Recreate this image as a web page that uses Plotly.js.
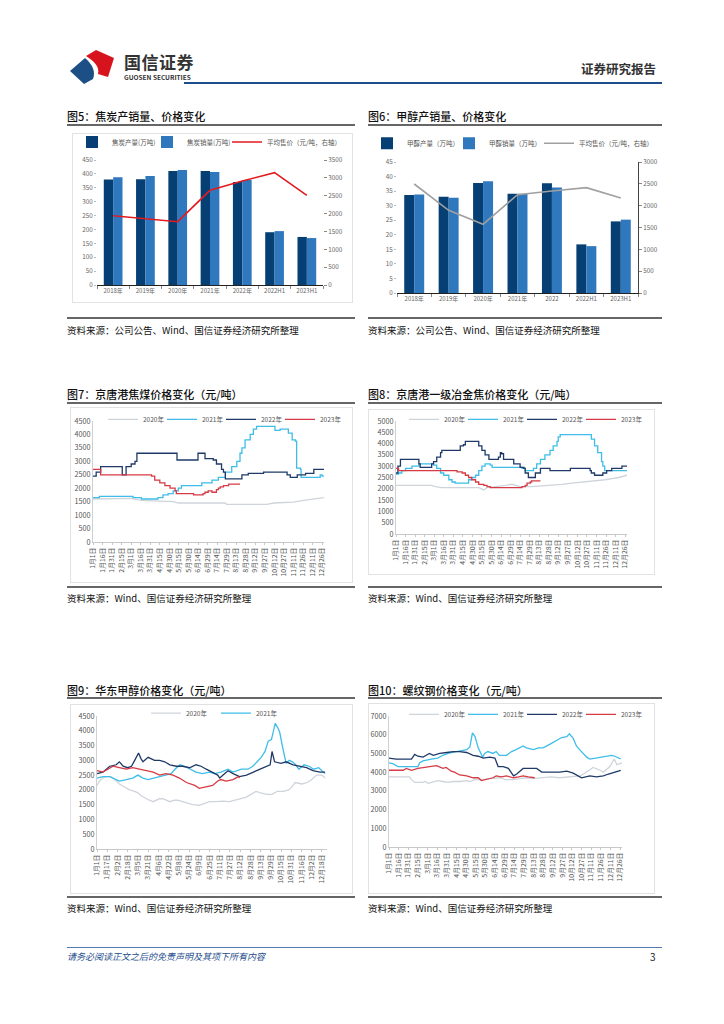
<!DOCTYPE html>
<html><head><meta charset="utf-8">
<script src="https://cdn.plot.ly/plotly-3.0.1.min.js"></script>
<style>
html,body{margin:0;padding:0;background:#fff;}
#page{position:relative;width:724px;height:1024px;overflow:hidden;font-family:"Noto Sans CJK SC","Noto Sans",sans-serif;color:#222;}
.abs{position:absolute;white-space:nowrap;}
.ftitle{position:absolute;font-size:11px;font-weight:500;color:#111;white-space:nowrap;line-height:14px;}
.rule{position:absolute;height:1.5px;background:#666;}
.src{position:absolute;font-size:9.5px;color:#111;white-space:nowrap;line-height:12px;}
.box{position:absolute;border:1px solid #e2e2e2;box-sizing:border-box;}
.plot{position:absolute;}
</style></head>
<body><div id="page">
<svg class="abs" style="left:0;top:0" width="130" height="90">
<path d="M86,56 L96,50 L114,58 L108,77 L98,74 C100,67 94,61 86,56 Z" fill="#d7141d"/>
<path d="M70,71 L85,58 C92,64 96,71 93,79 L84,84 Z" fill="#1d4f87"/>
</svg>
<div class="abs" style="left:124px;top:53px;font-size:17px;line-height:18px;font-weight:700;color:#333;letter-spacing:0.5px;">国信证券</div>
<div class="abs" style="left:124px;top:73px;font-size:6.5px;line-height:8px;font-weight:700;color:#333;">GUOSEN SECURITIES</div>
<div class="abs" style="left:184px;top:82px;width:478px;height:2px;background:#1f4e8c;"></div>
<div class="abs" style="left:581px;top:61px;font-size:12.5px;line-height:15px;font-weight:700;color:#333;">证券研究报告</div>

<div class="ftitle" style="left:67px;top:109px;">图5：焦炭产销量、价格变化</div>
<div class="rule" style="left:67px;top:124px;width:288px;"></div>
<div class="ftitle" style="left:368px;top:109px;">图6：甲醇产销量、价格变化</div>
<div class="rule" style="left:368px;top:124px;width:294px;"></div>
<div class="box" style="left:72px;top:133px;width:281px;height:170px;"></div>
<div class="plot" id="c5" style="left:72px;top:133px;width:281px;height:170px;"></div>
<div class="plot" id="c6" style="left:368px;top:132px;width:294px;height:176px;"></div>
<div class="rule" style="left:67px;top:317px;width:288px;"></div>
<div class="rule" style="left:368px;top:317px;width:294px;"></div>
<div class="src" style="left:67px;top:324px;">资料来源：公司公告、Wind、国信证券经济研究所整理</div>
<div class="src" style="left:368px;top:324px;">资料来源：公司公告、Wind、国信证券经济研究所整理</div>

<div class="ftitle" style="left:67px;top:387px;">图7：京唐港焦煤价格变化（元/吨）</div>
<div class="rule" style="left:67px;top:402px;width:288px;"></div>
<div class="ftitle" style="left:368px;top:387px;">图8：京唐港一级冶金焦价格变化（元/吨）</div>
<div class="rule" style="left:368px;top:402px;width:294px;"></div>
<div class="box" style="left:70px;top:407px;width:283px;height:176px;"></div>
<div class="box" style="left:368px;top:409px;width:287px;height:166px;"></div>
<div class="plot" id="c7" style="left:67px;top:405px;width:286px;height:178px;"></div>
<div class="plot" id="c8" style="left:368px;top:408px;width:287px;height:170px;"></div>
<div class="rule" style="left:67px;top:586px;width:288px;"></div>
<div class="rule" style="left:368px;top:586px;width:294px;"></div>
<div class="src" style="left:67px;top:592px;">资料来源：Wind、国信证券经济研究所整理</div>
<div class="src" style="left:368px;top:592px;">资料来源：Wind、国信证券经济研究所整理</div>

<div class="ftitle" style="left:67px;top:683px;">图9：华东甲醇价格变化（元/吨）</div>
<div class="rule" style="left:67px;top:697px;width:288px;"></div>
<div class="ftitle" style="left:368px;top:683px;">图10：螺纹钢价格变化（元/吨）</div>
<div class="rule" style="left:368px;top:697px;width:294px;"></div>
<div class="box" style="left:70px;top:704px;width:283px;height:190px;"></div>
<div class="box" style="left:368px;top:703px;width:287px;height:191px;"></div>
<div class="plot" id="c9" style="left:67px;top:702px;width:286px;height:190px;"></div>
<div class="plot" id="c10" style="left:365px;top:702px;width:290px;height:190px;"></div>
<div class="rule" style="left:67px;top:896px;width:288px;"></div>
<div class="rule" style="left:368px;top:896px;width:294px;"></div>
<div class="src" style="left:67px;top:902px;">资料来源：Wind、国信证券经济研究所整理</div>
<div class="src" style="left:368px;top:902px;">资料来源：Wind、国信证券经济研究所整理</div>

<div class="abs" style="left:67px;top:947px;width:595px;height:1px;background:#4f79b0;"></div>
<div class="abs" style="left:67px;top:951px;font-size:9px;line-height:12px;font-style:italic;color:#1f4e8c;">请务必阅读正文之后的免责声明及其项下所有内容</div>
<div class="abs" style="left:650px;top:951px;font-size:10px;line-height:12px;color:#222;">3</div>
</div>
<script>
// ---------- Chart 5 data (焦炭) ----------
var c5_categories = ["2018年","2019年","2020年","2021年","2022年","2022H1","2023H1"];
var c5_output = [380, 381, 410, 410, 371, 190, 173];
var c5_sales = [388, 392, 414, 407, 378, 194, 169];
var c5_price = [1941, 1848, 1773, 2651, 2912, 3145, 2511];
// ---------- Chart 6 data (甲醇) ----------
var c6_categories = ["2018年","2019年","2020年","2021年","2022","2022H1","2023H1"];
var c6_output = [33.7, 33.1, 37.8, 34.1, 37.7, 16.7, 24.6];
var c6_sales = [33.8, 32.7, 38.4, 34.1, 36.2, 16.1, 25.2];
var c6_price = [2496, 1893, 1573, 2252, 2336, 2412, 2176];

// ---------- tick labels ----------
var ticks15_days = [0,15,30,45,60,75,90,105,120,135,150,165,180,195,210,225,240,255,270,285,300,315,330,345,360];
var ticks15_text = ["1月1日","1月16日","1月31日","2月15日","3月1日","3月16日","3月31日","4月15日","4月30日","5月15日","5月30日","6月14日","6月29日","7月14日","7月29日","8月13日","8月28日","9月12日","9月27日","10月12日","10月27日","11月11日","11月26日","12月11日","12月26日"];
var ticks16_days = [0,16,32,48,64,80,96,112,128,144,160,176,192,208,224,240,256,272,288,304,320,336,352];
var ticks16_text = ["1月1日","1月17日","2月2日","2月18日","3月5日","3月21日","4月6日","4月22日","5月8日","5月24日","6月9日","6月25日","7月11日","7月27日","8月12日","8月28日","9月13日","9月29日","10月15日","10月31日","11月16日","12月2日","12月18日"];

// ---------- Chart 7 (京唐港焦煤) day-of-year / price ----------
var c7_2020_d = [0,52,60,76,105,126,134,208,210,273,284,315,331,347,363];
var c7_2020_v = [1600,1600,1620,1550,1520,1500,1450,1450,1400,1400,1450,1480,1550,1600,1650];
var c7_2021_d = [0,10,58,63,76,100,102,110,118,126,134,139,168,171,187,197,208,218,226,231,234,239,247,252,257,284,286,294,305,307,313,318,320,326,327,355,357,360,363];
var c7_2021_v = [1650,1700,1700,1650,1600,1600,1650,1750,1800,1900,2000,2100,2100,2200,2300,2400,2600,2800,3000,3300,3500,3800,4000,4200,4300,4300,4150,4200,4200,4050,3800,3750,2750,2700,2400,2400,2500,2450,2450];
var c7_2022_d = [0,5,12,45,46,52,60,66,69,131,132,163,165,173,176,189,194,202,205,208,231,234,244,268,302,305,310,321,334,347,363];
var c7_2022_v = [2450,2600,2800,2800,2500,2800,2900,3000,3300,3300,3050,3050,3300,3300,3100,3050,2900,2700,2600,2350,2350,2500,2550,2600,2600,2500,2400,2500,2550,2700,2700];
var c7_2023_d = [0,12,89,92,97,105,113,121,129,131,155,158,171,173,176,181,187,194,197,200,205,213,231];
var c7_2023_v = [2700,2500,2500,2450,2300,2200,2100,2000,1900,1800,1800,1750,1750,1800,1850,1900,1850,1950,2000,2050,2100,2150,2150];

// ---------- Chart 8 (京唐港一级冶金焦) ----------
var c8_2020_d = [0,56,62,72,130,135,138,143,161,172,182,195,213,240,261,276,297,329,339,350,363];
var c8_2020_v = [2150,2150,2100,2050,2050,2000,1950,2050,2100,2150,2200,2100,2100,2150,2200,2250,2300,2400,2450,2500,2600];
var c8_2021_d = [0,4,9,15,25,36,56,59,64,70,75,83,88,93,109,114,119,125,130,135,140,148,151,193,198,203,211,216,221,227,234,242,247,253,255,258,302,307,312,317,323,325,328,363];
var c8_2021_v = [2650,2700,2800,2900,3000,3100,3100,3050,2900,2700,2600,2400,2300,2250,2250,2400,2500,2600,2800,3000,3100,3050,2950,2950,2900,2800,2800,2900,3100,3300,3500,3700,3900,4100,4300,4400,4400,4200,3900,3600,3200,3000,2800,2800];
var c8_2022_d = [0,3,7,33,36,38,54,56,59,64,70,72,98,101,106,109,124,130,135,140,146,156,161,164,166,169,182,185,193,195,201,203,208,216,219,227,240,242,271,274,302,305,307,312,323,325,331,339,352,355,363];
var c8_2022_v = [2700,3000,3300,3300,3100,2950,2950,3100,3200,3400,3600,3700,3700,3900,3950,4100,4100,3900,3700,3500,3300,3300,3400,3600,3550,3300,3300,3100,3100,2950,2900,2700,2500,2500,2700,2900,2900,2800,2800,2900,2900,2800,2700,2600,2600,2700,2800,2900,2900,3000,3000];
var c8_2023_d = [0,4,88,96,104,109,114,119,125,130,138,143,148,187,198,203,206,211,213,227];
var c8_2023_v = [2900,2800,2800,2750,2700,2600,2500,2400,2300,2200,2150,2100,2050,2050,2100,2150,2250,2300,2350,2350];

// ---------- Chart 9 (华东甲醇) ----------
var c9_2020_d = [0,4,9,15,22,28,35,43,51,59,64,69,77,82,88,93,98,103,108,114,121,126,134,142,150,160,168,176,186,197,207,215,226,233,241,249,256,266,274,282,292,300,305,310,321,329,336,344,352,357];
var c9_2020_v = [2150,2300,2400,2450,2450,2350,2200,2100,2000,1950,1900,1800,1700,1650,1600,1650,1700,1700,1650,1600,1650,1650,1600,1550,1500,1480,1550,1600,1600,1620,1600,1650,1700,1750,1850,1950,1900,1850,1850,1950,1950,2000,2100,2250,2200,2250,2350,2500,2500,2400];
var c9_2021_d = [0,9,20,30,35,46,56,64,72,80,88,98,106,116,122,130,137,145,155,165,176,184,194,205,213,226,236,244,252,257,263,268,273,276,279,283,286,290,293,296,301,306,311,316,324,332,339,347,352,357];
var c9_2021_v = [2400,2450,2450,2350,2300,2350,2400,2500,2400,2350,2400,2450,2500,2550,2700,2850,2800,2700,2600,2550,2600,2550,2600,2700,2600,2700,2700,2800,3000,3100,3300,3650,3700,4000,4250,4100,3950,3500,3200,2900,3000,2950,2850,2700,2850,2800,2700,2750,2650,2550];
var c9_2022_d = [0,9,20,30,35,41,48,54,59,65,69,72,80,90,98,106,114,124,134,145,155,163,171,181,189,192,197,205,213,223,234,244,255,265,271,274,278,288,296,307,317,328,338,349,357];
var c9_2022_v = [2550,2600,2800,2850,2950,2800,2750,2800,3000,3250,3050,2950,3100,3000,3000,2950,2850,2800,2800,2750,2850,2800,2700,2600,2500,2400,2500,2650,2550,2450,2500,2600,2700,2800,2850,3300,2950,2900,2950,2850,2800,2750,2650,2600,2600];
var c9_2023_d = [0,9,17,25,35,46,56,67,77,88,98,108,119,129,140,148,153,160,171,181,189,194,202,213,221,223];
var c9_2023_v = [2650,2600,2700,2800,2750,2700,2750,2700,2650,2600,2500,2550,2500,2400,2250,2200,2150,2050,2100,2150,2300,2350,2300,2350,2450,2400];

// ---------- Chart 10 (螺纹钢) ----------
var c10_2020_d = [0,32,35,40,53,56,61,66,74,76,84,92,100,110,121,126,134,144,157,173,181,194,204,214,225,238,251,266,287,298,303,311,318,329,334,344,351,355,363];
var c10_2020_v = [3750,3750,3600,3450,3450,3500,3400,3450,3500,3550,3500,3450,3500,3500,3550,3500,3600,3600,3650,3700,3600,3600,3650,3700,3650,3700,3750,3700,3750,3800,3900,4100,4250,4100,4000,4300,4700,4400,4500];
var c10_2021_d = [0,6,14,45,48,53,66,76,84,92,105,113,121,126,130,134,139,146,149,154,162,167,172,183,191,198,204,209,214,225,233,240,251,261,269,277,281,287,292,297,308,313,323,334,347,352,361];
var c10_2021_v = [4500,4450,4300,4300,4500,4600,4700,4750,4900,5000,5100,5150,5200,5350,6100,5900,5300,4800,5000,5100,5000,5100,4900,4900,5100,5200,5300,5400,5300,5200,5300,5300,5500,5700,5850,5900,6050,5800,5400,5200,4800,4700,4750,4800,4900,4850,4700];
var c10_2022_d = [0,11,35,40,45,53,58,63,69,79,90,100,110,121,131,139,147,157,165,170,178,186,194,199,209,220,230,238,256,266,277,287,300,313,323,334,342,350,357,361];
var c10_2022_v = [4750,4700,4700,4950,4850,4800,4900,5000,4900,5000,5050,5100,5100,5050,4900,4850,4750,4800,4750,4300,4300,4200,3800,3900,4200,4200,4200,4000,4000,4000,4050,3950,3700,3800,3750,3800,3900,4000,4050,4100];
var c10_2023_d = [0,22,27,35,45,56,66,74,84,89,97,102,110,121,131,139,144,152,162,167,175,183,194,202,209,217,227];
var c10_2023_v = [4100,4100,4200,4100,4200,4250,4300,4350,4200,4250,4050,4000,3850,3800,3700,3700,3550,3600,3700,3800,3750,3800,3700,3750,3800,3750,3700];

var FONT = '"Noto Sans CJK SC", "Noto Sans", sans-serif';
var COL = {y2020:'#cfd4db', y2021:'#3dbde8', y2022:'#1f3a68', y2023:'#d63a44'};
var CFG = {displayModeBar:false, staticPlot:true};

function legendObj(xFrac, y, size){
  return {orientation:'h', x:xFrac, xanchor:'left', y:y, yanchor:'middle',
    font:{size:size, color:'#555'}, bgcolor:'rgba(0,0,0,0)', itemwidth:30, borderwidth:0};
}

// legPx: left edges (page px) of each legend entry; divLeft: page px of the div
function barChart(id, divLeft, cats, a, b, p, names, lineColor, yl, yr, m, legY, legPx, rightLine){
  var plotW = m.w - m.l - m.r;
  var fr = legPx.map(function(px){ return (px - divLeft - m.l) / plotW; });
  var traces = [
    {type:'bar', x:cats, y:a, name:names[0], legend:'legend', marker:{color:'#053f73'}},
    {type:'bar', x:cats, y:b, name:names[1], legend:'legend2', marker:{color:'#2f78bd'}},
    {type:'scatter', mode:'lines', x:cats, y:p, name:names[2], yaxis:'y2', legend:'legend3', line:{color:lineColor, width:1.6}}
  ];
  var layout = {
    width:m.w, height:m.h, margin:{l:m.l, r:m.r, t:m.t, b:m.b, autoexpand:false},
    paper_bgcolor:'rgba(0,0,0,0)', plot_bgcolor:'rgba(0,0,0,0)',
    font:{family:FONT, size:6.5, color:'#555'},
    barmode:'group', bargap:0.42, bargroupgap:0,
    showlegend:true,
    legend:legendObj(fr[0], legY, 6.5),
    legend2:legendObj(fr[1], legY, 6.5),
    legend3:legendObj(fr[2], legY, 6.5),
    xaxis:{type:'category', showline:true, linecolor:'#222', linewidth:1.2, ticks:'outside', ticklen:3, tickcolor:'#888', tickson:'boundaries', tickfont:{size:6, color:'#666'}},
    yaxis:{range:yl.range, dtick:yl.dtick, showgrid:false, zeroline:false, showline:false, ticks:'outside', ticklen:2, tickcolor:'#bbb', tickfont:{size:6.3, color:'#666'}},
    yaxis2:{overlaying:'y', side:'right', range:yr.range, dtick:yr.dtick, showgrid:false, zeroline:false, showline:rightLine, linecolor:'#444', ticks:'outside', ticklen:3, tickcolor:'#888', tickfont:{size:6.3, color:'#666'}}
  };
  Plotly.newPlot(id, traces, layout, CFG);
}

function lineChart(id, divLeft, series, yr, dtick, ticks, ticktext, xr, m, shape, legPx, legY){
  var names = ['2020年','2021年','2022年','2023年'];
  var cols = [COL.y2020, COL.y2021, COL.y2022, COL.y2023];
  var legIds = ['legend','legend2','legend3','legend4'];
  var plotW = m.w - m.l - m.r;
  var traces = series.map(function(s,i){
    return {type:'scatter', mode:'lines', x:s[0], y:s[1], name:names[i],
      legend:legIds[i], showlegend: i < legPx.length,
      line:{color:cols[i], width:1.3, shape:(i===0 && shape==='hv') ? 'linear' : shape}};
  });
  var layout = {
    width:m.w, height:m.h, margin:{l:m.l, r:m.r, t:m.t, b:m.b, autoexpand:false},
    paper_bgcolor:'rgba(0,0,0,0)', plot_bgcolor:'rgba(0,0,0,0)',
    font:{family:FONT, size:7, color:'#555'},
    showlegend:true,
    xaxis:{range:xr, tickmode:'array', tickvals:ticks, ticktext:ticktext, tickangle:-90, showgrid:false, zeroline:false, showline:true, linecolor:'#c8c8c8', linewidth:1, ticks:'outside', ticklen:2, tickcolor:'#c8c8c8', tickfont:{size:6.8, color:'#555'}},
    yaxis:{range:yr, dtick:dtick, showgrid:false, zeroline:false, showline:true, linecolor:'#d0d0d0', linewidth:1, ticks:'', tickfont:{size:7.2, color:'#555'}}
  };
  legPx.forEach(function(px, i){
    layout[legIds[i]] = legendObj((px - divLeft - m.l) / plotW, legY, 6.5);
  });
  Plotly.newPlot(id, traces, layout, CFG);
}

barChart('c5', 72, c5_categories, c5_output, c5_sales, c5_price,
  ['焦炭产量(万吨)','焦炭销量(万吨)','平均售价（元/吨，右轴）'], '#e31b1f',
  {range:[0,450], dtick:50}, {range:[0,3500], dtick:500},
  {w:281, h:170, l:25, r:30, t:27, b:18}, 1.144, [72, 147, 227], false);

barChart('c6', 368, c6_categories, c6_output, c6_sales, c6_price,
  ['甲醇产量（万吨）','甲醇销量（万吨）','平均售价（元/吨，右轴）'], '#a0a0a0',
  {range:[0,45], dtick:5}, {range:[0,3000], dtick:500},
  {w:294, h:176, l:29, r:24, t:30, b:15}, 1.143, [367, 449, 539], true);

lineChart('c7', 67, [[c7_2020_d,c7_2020_v],[c7_2021_d,c7_2021_v],[c7_2022_d,c7_2022_v],[c7_2023_d,c7_2023_v]],
  [0,4500], 500, ticks15_days, ticks15_text, [0,363], {w:286, h:178, l:26, r:29, t:16, b:41}, 'hv', [103,162,221,280], 1.014);

lineChart('c8', 368, [[c8_2020_d,c8_2020_v],[c8_2021_d,c8_2021_v],[c8_2022_d,c8_2022_v],[c8_2023_d,c8_2023_v]],
  [0,5000], 500, ticks15_days, ticks15_text, [0,363], {w:287, h:170, l:28, r:28, t:13, b:44}, 'hv', [404,463,522,581], 1.015);

lineChart('c9', 67, [[c9_2020_d,c9_2020_v],[c9_2021_d,c9_2021_v],[c9_2022_d,c9_2022_v],[c9_2023_d,c9_2023_v]],
  [0,4500], 500, ticks16_days, ticks16_text, [0,360], {w:286, h:190, l:30, r:26, t:14, b:43}, 'linear', [146,216], 1.022);

lineChart('c10', 365, [[c10_2020_d,c10_2020_v],[c10_2021_d,c10_2021_v],[c10_2022_d,c10_2022_v],[c10_2023_d,c10_2023_v]],
  [0,7000], 1000, ticks15_days, ticks15_text, [0,363], {w:290, h:190, l:24, r:33, t:14, b:45}, 'linear', [404,463,522,581], 1.013);
</script>
</body></html>
